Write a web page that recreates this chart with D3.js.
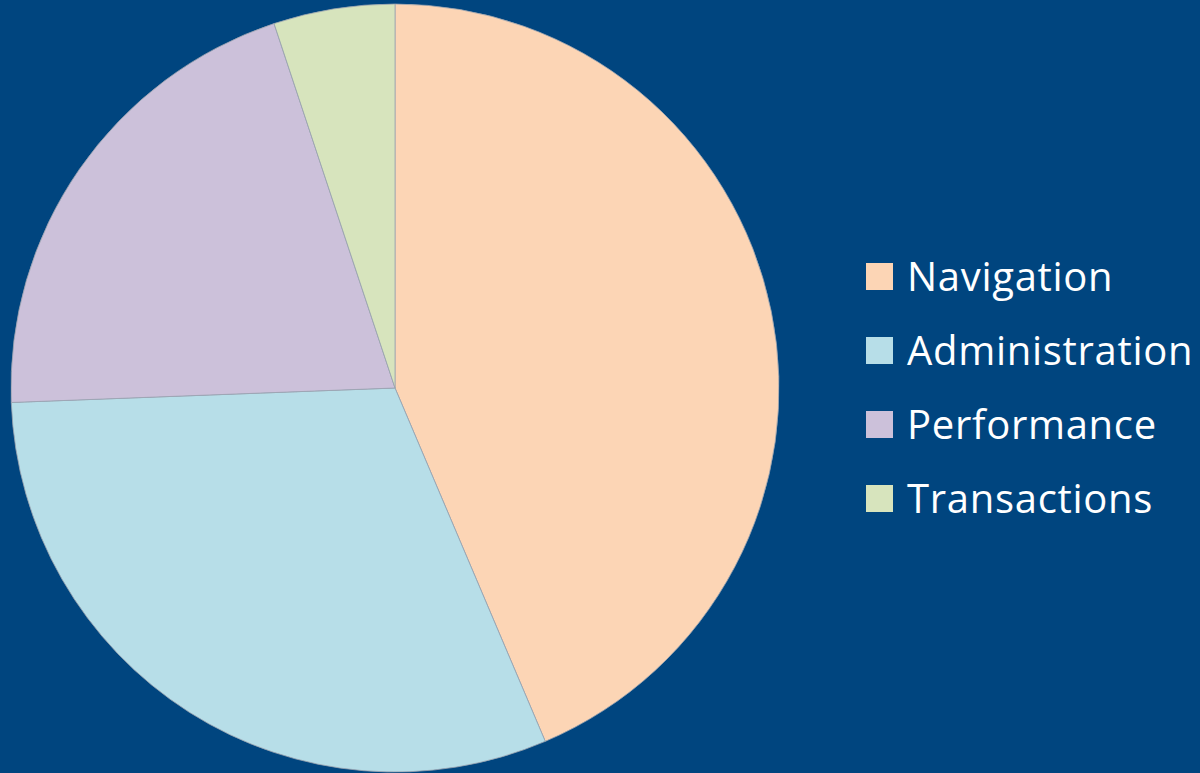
<!DOCTYPE html>
<html>
<head>
<meta charset="utf-8">
<script src="https://cdn.jsdelivr.net/npm/d3@7"></script>
<style>
  html, body { margin: 0; padding: 0; background: #00457f; }
</style>
</head>
<body>
<div id="chart"></div>
<script>
var width = 1200;
var height = 773;

// data (percent of the whole)
var categories = ["Navigation", "Administration", "Performance", "Transactions"];
var values = [43.6, 30.8, 20.5, 5.1];
var colors = ["#fcd5b5", "#b7dee8", "#ccc1da", "#d7e4bd"];

var svg = d3.select("#chart")
  .append("svg")
    .attr("width", width)
    .attr("height", height)
    .style("background", "#00457f");

var color = d3.scaleOrdinal()
  .domain(categories)
  .range(colors);

var pie = d3.pie()
  .sort(null)
  .value(function (d, i) { return values[i]; });

var radius = 384;
var arc = d3.arc()
  .innerRadius(0)
  .outerRadius(radius);

var pieGroup = svg.append("g")
  .attr("transform", "translate(" + 395 + ", " + 388 + ")");

pieGroup.selectAll("path")
  .data(pie(categories))
  .enter()
  .append("path")
    .attr("d", arc)
    .attr("fill", function (d) { return color(d.data); })
    .attr("stroke", "#9aa3b0")
    .attr("stroke-width", 0.8);

// legend
var legend = svg.append("g")
  .attr("transform", "translate(" + 866 + ", " + 263 + ")");

var items = legend.selectAll("g")
  .data(categories)
  .enter()
  .append("g")
    .attr("transform", function (d, i) { return "translate(0, " + (i * 74) + ")"; });

items.append("rect")
  .attr("width", 27)
  .attr("height", 27)
  .attr("fill", function (d) { return color(d); });

items.append("text")
  .attr("x", 41)
  .attr("y", 28)
  .attr("fill", "#ffffff")
  .attr("font-family", "'Open Sans', sans-serif")
  .attr("font-size", "40px")
  .attr("letter-spacing", "0.7px")
  .style("font-variant-ligatures", "none")
  .text(function (d) { return d; });
</script>
</body>
</html>
